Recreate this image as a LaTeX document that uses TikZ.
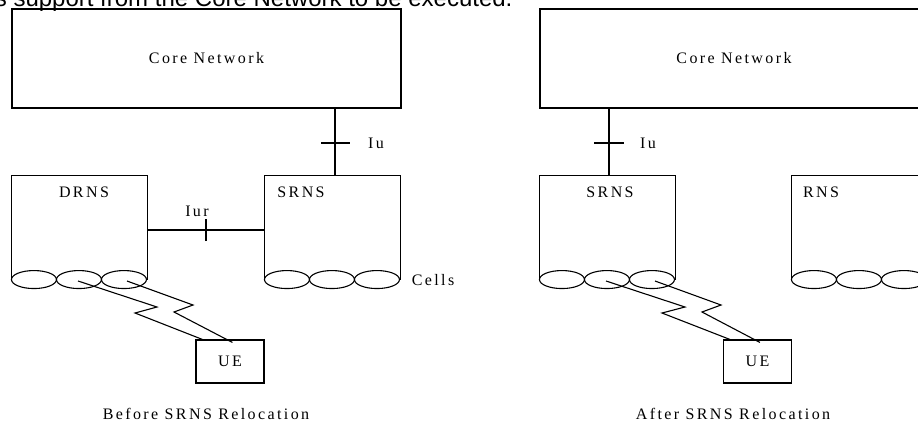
\documentclass[tikz,border=0pt]{standalone}
\usepackage{fontspec}
\setmainfont{Liberation Serif}
\newfontfamily\lblfont[LetterSpace=15]{Liberation Serif}
\newfontfamily\topfont{Liberation Sans}
\begin{document}
\begin{tikzpicture}[x=1pt,y=-1pt,
  line width=1.1pt,
  lbl/.style={font=\lblfont\fontsize{16}{18}\selectfont, inner sep=0pt},
  netbox/.style={draw, rectangle, inner sep=0pt, lbl},
  rnsarea/.style={rectangle, inner sep=0pt, minimum width=135pt, minimum height=103pt},
  uebox/.style={draw, rectangle, inner sep=0pt, minimum width=68pt, minimum height=43pt, lbl}
]
\useasboundingbox (0,0) rectangle (918,421);
\clip (0,0) rectangle (918,421);

% top running text (cut off in the reference)
\node[font=\topfont\fontsize{24}{28}\selectfont, anchor=base east, inner sep=0pt] (toptext) at (513,6.5) {s support from the Core Network to be executed.};

% ---------------- Left: Before SRNS Relocation ----------------
\node[netbox, minimum width=389pt, minimum height=99pt] (cn1) at (206.5,58.5) {Core Network};

\node[rnsarea] (drns) at (79.5,227.5) {};
\node[rnsarea] (srns1) at (332.5,227.5) {};
\draw (drns.south west) -- (drns.north west) -- (drns.north east) -- (drns.south east);
\draw (srns1.south west) -- (srns1.north west) -- (srns1.north east) -- (srns1.south east);
\node[lbl] (drnslbl) at (84,192) {DRNS};
\node[lbl] (srns1lbl) at (301,192) {SRNS};

\foreach \i in {0,1,2} {
  \draw ([xshift=22.5pt+\i*45pt]drns.south west) ellipse [x radius=22.5pt, y radius=9pt];
  \draw ([xshift=22.5pt+\i*45pt]srns1.south west) ellipse [x radius=22.5pt, y radius=9pt];
}
\node[lbl] (cells) at (433,280) {Cells};

% Iu (left)
\coordinate (iu1) at (335,143);
\draw (iu1 |- cn1.south) -- (iu1 |- srns1.north);
\draw ([xshift=-14pt]iu1) -- ([xshift=15pt]iu1);
\node[lbl] (iu1lbl) at (376,143) {Iu};

% Iur
\coordinate (iur) at (206,230);
\draw (iur -| drns.east) -- (iur -| srns1.west);
\draw ([yshift=-11pt]iur) -- ([yshift=11pt]iur);
\node[lbl] (iurlbl) at (197,211) {Iur};

% UE left
\node[uebox] (ue1) at (230,361.5) {UE};
\coordinate (z1a) at (78,281);
\coordinate (z1b) at (157,307);
\coordinate (z1c) at (135,313);
\coordinate (z2a) at (127,281);
\coordinate (z2b) at (193,305);
\coordinate (z2c) at (174,312);
\draw (z1a) -- (z1b) -- (z1c) -- ([xshift=7pt]ue1.north west);
\draw (z2a) -- (z2b) -- (z2c) -- ([xshift=37pt,yshift=-3pt]ue1.north west);

\node[lbl, anchor=base] (cap1) at (206,419) {Before SRNS Relocation};

% ---------------- Right: After SRNS Relocation ----------------
\node[netbox, minimum width=388pt, minimum height=99pt] (cn2) at (734,58.5) {Core Network};

\node[rnsarea] (srns2) at (607.5,227.5) {};
\node[rnsarea] (rns) at (859.5,227.5) {};
\draw (srns2.south west) -- (srns2.north west) -- (srns2.north east) -- (srns2.south east);
\draw (rns.south west) -- (rns.north west) -- (rns.north east) -- (rns.south east);
\node[lbl] (srns2lbl) at (610,192) {SRNS};
\node[lbl] (rnslbl) at (821,192) {RNS};

\foreach \i in {0,1,2} {
  \draw ([xshift=22.5pt+\i*45pt]srns2.south west) ellipse [x radius=22.5pt, y radius=9pt];
  \draw ([xshift=22.5pt+\i*45pt]rns.south west) ellipse [x radius=22.5pt, y radius=9pt];
}

% Iu (right)
\coordinate (iu2) at (609,143);
\draw (iu2 |- cn2.south) -- (iu2 |- srns2.north);
\draw ([xshift=-15pt]iu2) -- ([xshift=15pt]iu2);
\node[lbl] (iu2lbl) at (648,143) {Iu};

% UE right
\node[uebox] (ue2) at (757.5,361.5) {UE};
\coordinate (y1a) at (606,281);
\coordinate (y1b) at (685,307);
\coordinate (y1c) at (662,313);
\coordinate (y2a) at (655,281);
\coordinate (y2b) at (721,305);
\coordinate (y2c) at (702,312);
\draw (y1a) -- (y1b) -- (y1c) -- ([xshift=7pt]ue2.north west);
\draw (y2a) -- (y2b) -- (y2c) -- ([xshift=37pt,yshift=-3pt]ue2.north west);

\node[lbl, anchor=base] (cap2) at (733,419) {After SRNS Relocation};
\end{tikzpicture}
\end{document}
